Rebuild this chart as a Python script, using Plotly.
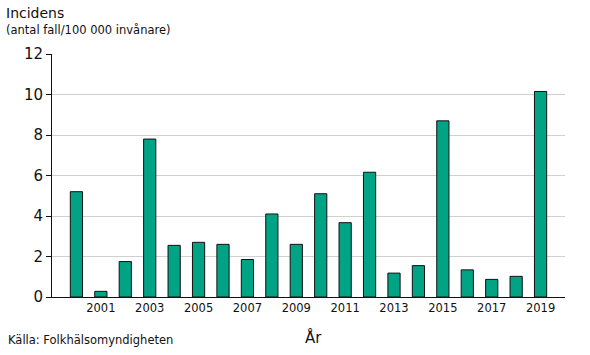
import plotly.graph_objects as go

years = list(range(2000, 2020))
incidence = [5.2, 0.28, 1.75, 7.8, 2.55, 2.7, 2.6, 1.85, 4.1, 2.6,
             5.1, 3.67, 6.16, 1.18, 1.55, 8.7, 1.34, 0.87, 1.02, 10.15]
x_tick_years = [2001, 2003, 2005, 2007, 2009, 2011, 2013, 2015, 2017, 2019]
y_ticks = [0, 2, 4, 6, 8, 10, 12]

FONT = "Verdana, DejaVu Sans, sans-serif"

W, H = 590, 355
L, T, R, B = 52, 54, 565, 297

fig = go.Figure(go.Bar(
    x=years, y=incidence, width=0.5,
    marker=dict(color="#00A383", line=dict(color="#111111", width=1)),
))

fig.update_layout(
    width=W, height=H,
    margin=dict(l=L, r=W - R, t=T, b=H - B, autoexpand=False),
    paper_bgcolor="white", plot_bgcolor="white",
    font=dict(family=FONT, color="#111111"),
    showlegend=False,
    xaxis=dict(range=[1999, 2020], tickvals=x_tick_years, ticks="",
               showgrid=False, showline=True, linecolor="#111111", linewidth=1,
               tickfont=dict(size=11.5), zeroline=False),
    yaxis=dict(range=[0, 12], tickvals=y_ticks, ticks="outside", ticklen=5,
               tickcolor="#111111", showline=True, linecolor="#111111",
               showgrid=True, gridcolor="#D0D0D0", gridwidth=1,
               tickfont=dict(size=15), zeroline=False),
)

def px_ann(text, x, y, size, xanchor="left"):
    fig.add_annotation(text=text, x=(x - L) / (R - L),
                       y=(B - y) / (B - T),
                       xref="paper", yref="paper", showarrow=False,
                       borderpad=0, xanchor=xanchor, yanchor="middle",
                       font=dict(size=size))

px_ann("Incidens", 5, 13, 14)
px_ann("(antal fall/100 000 invånare)", 5, 30, 11.5)
px_ann("År", 313, 337, 15, xanchor="center")
px_ann("Källa: Folkhälsomyndigheten", 7, 340, 11.5)

fig.write_html("out.html", config={"displayModeBar": False},
               post_script="document.body.style.margin='0';")
